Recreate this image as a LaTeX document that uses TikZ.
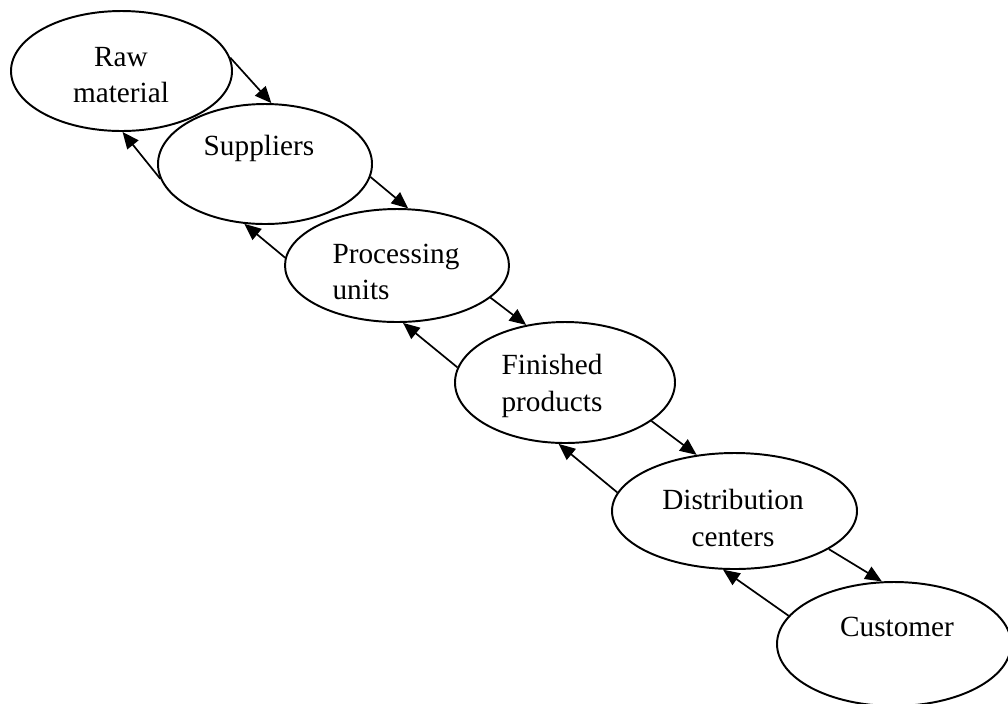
\documentclass[tikz,border=0pt]{standalone}
\usepackage{fontspec}
\setmainfont{Liberation Serif}
\usetikzlibrary{arrows.meta,shapes.geometric}

\begin{document}
\begin{tikzpicture}[x=0.41pt,y=-0.41pt,
	stage/.style 2 args={ellipse,draw,line width=0.8pt,inner sep=0pt,minimum width=#1*0.41pt,minimum height=#2*0.41pt},
	tag/.style={inner sep=0pt,font=\fontsize{12}{15}\selectfont,align=center},
	flow/.style={line width=0.7pt,-{Triangle[length=6.8pt,width=5.8pt]}}]

	\useasboundingbox (0,0) rectangle (1008,703);

	%---------------------
	% stages
	%---------------------
	\node[stage={221}{120}] (raw) at (121.5,71) {};
	\node[tag] (rawtxt) at (121,75) {Raw\\material};

	\node[stage={214}{120}] (sup) at (265,164) {};
	\node[tag] (suptxt) at (259,148) {Suppliers};

	\node[stage={224}{113}] (proc) at (397,265.5) {};
	\node[tag,align=left] (proctxt) at (396,272) {Processing\\units};

	\node[stage={220}{121}] (fin) at (565,382.5) {};
	\node[tag] (fintxt) at (552,386) {Finished\\products};

	\node[stage={245}{116}] (dist) at (734.5,511) {};
	\node[tag] (disttxt) at (733,518) {Distribution\\centers};

	\node[stage={234}{124}] (cust) at (894,644) {};
	\node[tag] (custtxt) at (897,627) {Customer};

	%---------------------
	% forward
	%---------------------
	\draw[flow] (raw.7) -- (sup.84);
	\draw[flow] (sup.-7.5) -- (proc.79);
	\draw[flow] (proc.-19) -- (fin.124);
	\draw[flow] (fin.-24) -- (dist.124);
	\draw[flow] (dist.-22) -- (cust.101);

	%---------------------
	% backward
	%---------------------
	\draw[flow] (sup.-172) -- (raw.-89);
	\draw[flow] (proc.176) -- (sup.-109);
	\draw[flow] (fin.172) -- (proc.-84);
	\draw[flow] (dist.171) -- (fin.-96);
	\draw[flow] (cust.165) -- (dist.-101);

\end{tikzpicture}
\end{document}
